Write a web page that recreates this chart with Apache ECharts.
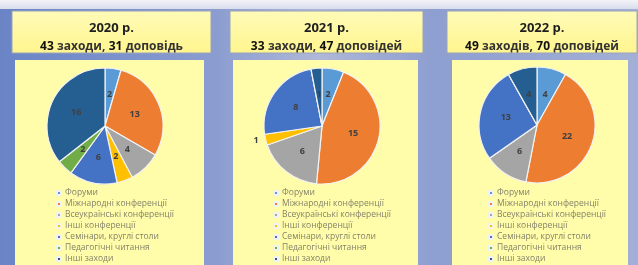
<!DOCTYPE html>
<html>
<head>
<meta charset="utf-8">
<script src="https://cdn.jsdelivr.net/npm/echarts@6/dist/echarts.min.js"></script>
<style>
  html, body { margin: 0; padding: 0; }
  #main { width: 638px; height: 265px; }
</style>
</head>
<body>
<div id="main"></div>
<script>
    // категорії заходів
    var categories = ['Форуми', 'Міжнародні конференції', 'Всеукраїнські конференції',
        'Інші конференції', 'Семінари, круглі столи', 'Педагогічні читання', 'Інші заходи'];
    var years = ['2020 р.', '2021 р.', '2022 р.'];
    var values2020 = [2, 13, 4, 2, 6, 2, 16];
    var values2021 = [2, 15, 6, 1, 8, 0, 1];
    var values2022 = [4, 22, 6, 0, 13, 0, 4];
    var eventsTotal = [43, 33, 49];
    var reportsTotal = [31, 47, 70];
    var reportsWord = ['доповідь', 'доповідей', 'доповідей'];
    var eventsWord = ['заходи', 'заходи', 'заходів'];
    var colors = ['#5b9bd5', '#ed7d31', '#a5a5a5', '#ffc000', '#4472c4', '#70ad47', '#255e91'];

    var allValues = [values2020, values2021, values2022];
    // панелі: рамка заголовка, рамка діаграми, центр пирога
    var panels = [
        { tx: 12, tw: 199, cx: 15, cw: 189, center: [105, 126] },
        { tx: 230, tw: 193, cx: 233, cw: 185, center: [322, 126] },
        { tx: 447, tw: 190, cx: 452, cw: 176, center: [537, 125] }
    ];

    var myChart = echarts.init(document.getElementById('main'));

    var graphic = [{
        type: 'rect', shape: { x: 0, y: 0, width: 638, height: 265 }, z: -10,
        style: { fill: new echarts.graphic.LinearGradient(0, 0, 1, 0, [
            { offset: 0, color: '#6a84c6' },
            { offset: 0.34, color: '#8b9dd0' },
            { offset: 0.5, color: '#b0b8d8' },
            { offset: 0.68, color: '#8d9ed0' },
            { offset: 1, color: '#a3afd6' }
        ]) }
    }, {
        type: 'rect', shape: { x: 0, y: 0, width: 638, height: 9 }, z: -9,
        style: { fill: new echarts.graphic.LinearGradient(0, 0, 0, 1, [
            { offset: 0, color: '#f4f4f8' },
            { offset: 1, color: '#d8dcec' }
        ]) }
    }];

    var series = [];
    var legends = [];
    panels.forEach(function(p, i){
        graphic.push({
            type: 'rect', shape: { x: p.tx, y: 11, width: p.tw, height: 42 }, z: -5,
            style: { fill: new echarts.graphic.LinearGradient(0, 0, 0, 1, [
                { offset: 0, color: '#fffbb8' },
                { offset: 1, color: '#fff58e' }
            ]), stroke: '#9aa3b8', lineWidth: 1 }
        });
        graphic.push({
            type: 'rect', shape: { x: p.cx, y: 60, width: p.cw, height: 210 }, z: -5,
            style: { fill: '#fffcaa' }
        });
        graphic.push({
            type: 'text', x: p.tx + p.tw / 2, y: 28, z: 5,
            style: { text: years[i], fill: '#1e1e1e', font: 'bold 13px "Open Sans"',
                align: 'center', verticalAlign: 'middle' }
        });
        graphic.push({
            type: 'text', x: p.tx + p.tw / 2, y: 47, z: 5,
            style: {
                text: '{n|' + eventsTotal[i] + '} {w|' + eventsWord[i] + ',} {n|' + reportsTotal[i] + '} {w|' + reportsWord[i] + '}',
                align: 'center', verticalAlign: 'middle',
                rich: {
                    n: { fontFamily: 'Open Sans', fontWeight: 'bold', fontSize: 12, fill: '#111111' },
                    w: { fontFamily: 'Open Sans', fontWeight: 'bold', fontSize: 12, fill: '#333333' }
                }
            }
        });

        var data = categories.map(function(name, k){
            var item = { name: name, value: allValues[i][k], itemStyle: { color: colors[k] } };
            // маленький сектор 2021 — підпис зовні
            if (i === 1 && k === 3) {
                item.label = { position: 'outside', distance: 4 };
                item.labelLine = { show: false, length: 2, length2: 0 };
            }
            return item;
        });
        series.push({
            type: 'pie',
            center: p.center,
            radius: 58,
            startAngle: 90,
            clockwise: true,
            animation: false,
            itemStyle: { borderColor: '#f2f2f2', borderWidth: 1.2 },
            label: {
                show: true, position: 'inside',
                color: '#404040', fontWeight: 'bold', fontSize: 9, fontFamily: 'Open Sans',
                formatter: function(prm){ return prm.value ? prm.value : ''; }
            },
            labelLine: { show: false },
            emphasis: { disabled: true },
            data: data
        });
        legends.push({
            data: categories,
            orient: 'vertical',
            left: p.center[0] - 49,
            top: 188,
            height: 90,
            padding: 0,
            itemWidth: 4,
            itemHeight: 4,
            itemGap: 1,
            icon: 'rect',
            selectedMode: false,
            textStyle: { fontSize: 8.5, color: '#85836a', fontFamily: 'Open Sans', lineHeight: 10, padding: [0, 0, 0, -1] }
        });
    });

    var option = {
        backgroundColor: '#8b9dd0',
        graphic: graphic,
        legend: legends,
        series: series
    };
    myChart.setOption(option);
</script>
</body>
</html>
